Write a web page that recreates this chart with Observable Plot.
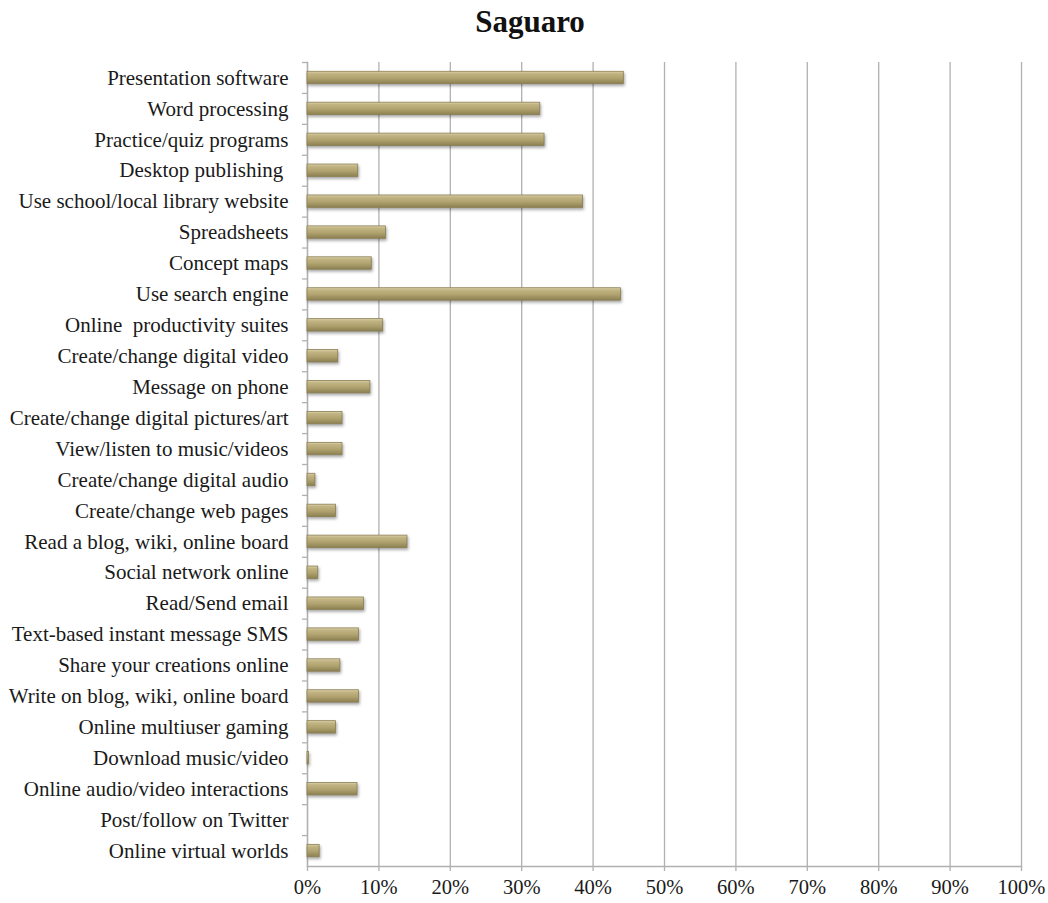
<!DOCTYPE html>
<html>
<head>
<meta charset="utf-8">
<script src="https://cdn.jsdelivr.net/npm/d3@7"></script>
<script src="https://cdn.jsdelivr.net/npm/@observablehq/plot@0.6"></script>
<style>
  html, body { margin: 0; padding: 0; background: #fff; }
  #wrap { position: relative; width: 1048px; height: 903px; }
  #title { position: absolute; left: 0; width: 1060px; top: 4px; text-align: center;
           font-family: "Liberation Serif", "Times New Roman", serif; font-weight: bold; font-size: 31px; color: #111; }
  #chart { position: absolute; left: 0; top: 48px; }
</style>
</head>
<body>
<div id="wrap">
  <div id="title">Saguaro</div>
  <div id="chart"></div>
</div>
<script>
const categories = [
  "Presentation software",
  "Word processing",
  "Practice/quiz programs",
  "Desktop publishing ",
  "Use school/local library website",
  "Spreadsheets",
  "Concept maps",
  "Use search engine",
  "Online  productivity suites",
  "Create/change digital video",
  "Message on phone",
  "Create/change digital pictures/art",
  "View/listen to music/videos",
  "Create/change digital audio",
  "Create/change web pages",
  "Read a blog, wiki, online board",
  "Social network online",
  "Read/Send email",
  "Text-based instant message SMS",
  "Share your creations online",
  "Write on blog, wiki, online board",
  "Online multiuser gaming",
  "Download music/video",
  "Online audio/video interactions",
  "Post/follow on Twitter",
  "Online virtual worlds"
];
const values = [
  0.443, 0.326, 0.332, 0.071, 0.386, 0.110, 0.090, 0.439, 0.106, 0.043,
  0.088, 0.049, 0.049, 0.011, 0.040, 0.140, 0.015, 0.079, 0.072, 0.046,
  0.072, 0.040, 0.002, 0.070, 0.000, 0.017
];
const xTicks = [0, 0.1, 0.2, 0.3, 0.4, 0.5, 0.6, 0.7, 0.8, 0.9, 1.0];

const data = categories.map((c, i) => ({category: c, value: values[i]}));

const W = 1048, H = 855;
const mTop = 14, mBottom = 37, mLeft = 307, mRight = 27;
const step = (H - mTop - mBottom) / categories.length;

const plot = Plot.plot({
  width: W,
  height: H,
  marginTop: mTop,
  marginBottom: mBottom,
  marginLeft: mLeft,
  marginRight: mRight,
  style: {fontFamily: '"Liberation Serif", "Times New Roman", serif', fontSize: "20px", color: "#1a1a1a", background: "#fff"},
  x: {domain: [0, 1], ticks: xTicks, tickFormat: d3.format(".0%"), label: null},
  y: {domain: categories, paddingInner: 0.6, paddingOuter: 0.3, align: 0.5, round: false, label: null},
  marks: [
    Plot.gridX(xTicks, {stroke: "#b0b0b0", strokeOpacity: 1, strokeWidth: 1.3}),
    Plot.frame({anchor: "bottom", stroke: "#b0b0b0", strokeWidth: 1.3}),
    Plot.frame({anchor: "left", stroke: "#b0b0b0", strokeWidth: 1.3}),
    Plot.axisX(xTicks, {tickSize: 5, tickPadding: 8, stroke: "#b0b0b0", strokeWidth: 1.3, fill: "#1a1a1a", tickFormat: d3.format(".0%"), fontSize: 20.5, label: null}),
    Plot.axisY({tickSize: 5, text: null, dy: -step / 2, stroke: "#b0b0b0", strokeWidth: 1.3, label: null}),
    Plot.axisY({tickSize: 0, tickPadding: 19, fill: "#1a1a1a", fontSize: 21, label: null}),
    Plot.barX(data, {x: "value", y: "category", fill: "url(#barGrad)", stroke: "#8b7f52", strokeWidth: 0.8})
  ]
});

// gradient definition for the bar fill
const ns = "http://www.w3.org/2000/svg";
const defs = document.createElementNS(ns, "defs");
defs.innerHTML = `
  <linearGradient id="barGrad" x1="0" y1="0" x2="0" y2="1">
    <stop offset="0" stop-color="#ddd3ad"/>
    <stop offset="0.18" stop-color="#c2b584"/>
    <stop offset="0.55" stop-color="#b0a36f"/>
    <stop offset="1" stop-color="#8c8052"/>
  </linearGradient>`;
plot.insertBefore(defs, plot.firstChild);
plot.querySelectorAll("g[aria-label='bar'] rect").forEach(r => {
  r.style.filter = "drop-shadow(1.5px 2px 1.5px rgba(0,0,0,0.35))";
});
document.getElementById("chart").appendChild(plot);
</script>
</body>
</html>
